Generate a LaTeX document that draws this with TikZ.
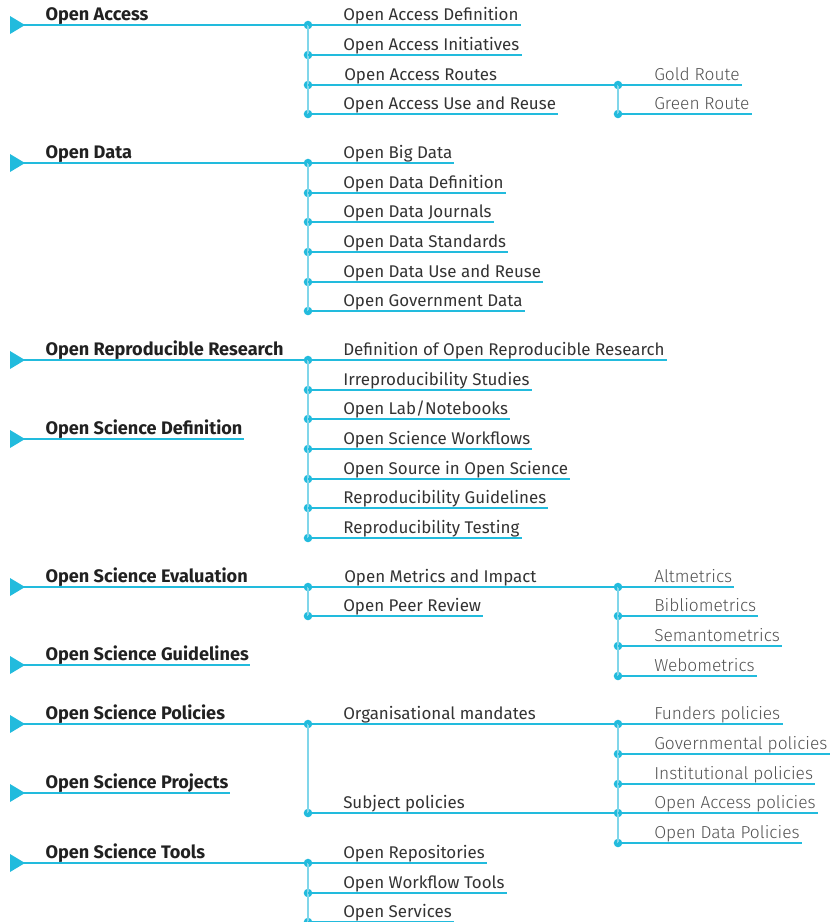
\documentclass[tikz,border=0pt]{standalone}
\usepackage{fontspec}
\setmainfont{Fira Sans}
\newfontfamily\lightfont{Fira Sans Light}
\usepackage{tikz}
\definecolor{oscyan}{HTML}{22BBDD}
\definecolor{oslight}{HTML}{80D6EA}
\tikzset{
  hline/.style={draw=oscyan, line width=0.8pt},
  vline/.style={draw=oslight, line width=1.2pt},
  dot/.style={circle, fill=oscyan, inner sep=0pt, minimum size=6.4pt},
  topic/.style={anchor=south west, inner xsep=1pt, inner ysep=3.2pt, text depth=0pt, font=\bfseries\fontsize{13.6}{15}\selectfont, text=black!87},
  subtopic/.style={anchor=south west, inner xsep=1.5pt, inner ysep=3.2pt, text depth=0pt, font=\fontsize{12.7}{14}\selectfont, text=black!80},
  leaf/.style={anchor=south west, inner xsep=1.5pt, inner ysep=3.2pt, text depth=0pt, font=\lightfont\fontsize{13}{14}\selectfont, text=black!68}
}
\newcommand{\tip}[1]{\fill[oscyan] (#1) ++(-7,-9) -- ++(15,9) -- ++(-15,9) -- cycle;}

\begin{document}
\begin{tikzpicture}[x=0.75pt, y=-0.75pt]
		\useasboundingbox (0,0) rectangle (833,922);
		%%%%% OPEN ACCESS %%%%%
		\coordinate (toa) at (17,25);
		\node[topic] (oa) at (44,25) {Open Access};
		\node[dot] (doaDef) at (308,25) {};
		\node[dot] (doaIni) at (308,55) {};
		\node[dot] (doaRou) at (308,85) {};
		\node[dot] (doaUse) at (308,114) {};
		\node[subtopic] (oaDef) at (341,25) {Open Access Definition};
		\node[subtopic] (oaIni) at (341,55) {Open Access Initiatives};
		\node[subtopic] (oaRou) at (342,85) {Open Access Routes};
		\node[subtopic] (oaUse) at (341,114) {Open Access Use and Reuse};
		\node[dot] (dgold) at (618,85) {};
		\node[dot] (dgreen) at (618,114) {};
		\node[leaf] (gold) at (652,85) {Gold Route};
		\node[leaf] (green) at (652,114) {Green Route};
		\tip{toa}
		\draw[hline] (toa) -- (doaDef.center);
		\draw[vline] (doaDef.center) -- (doaUse.center);
		\draw[hline] (doaDef.center) -- (oaDef.south east);
		\draw[hline] (doaIni.center) -- (oaIni.south east);
		\draw[hline] (doaRou.center) -- (dgold.center);
		\draw[hline] (doaUse.center) -- (oaUse.south east);
		\draw[vline] (dgold.center) -- (dgreen.center);
		\draw[hline] (dgold.center) -- (gold.south east);
		\draw[hline] (dgreen.center) -- (green.south east);
		
		%%%%% OPEN DATA %%%%%
		\coordinate (tod) at (17,163);
		\node[topic] (od) at (44,163) {Open Data};
		\node[dot] (dodBig) at (308,163) {};
		\node[dot] (dodDef) at (308,193) {};
		\node[dot] (dodJou) at (308,222) {};
		\node[dot] (dodSta) at (308,252) {};
		\node[dot] (dodUse) at (308,282) {};
		\node[dot] (dodGov) at (308,311) {};
		\node[subtopic] (odBig) at (341,163) {Open Big Data};
		\node[subtopic] (odDef) at (341,193) {Open Data Definition};
		\node[subtopic] (odJou) at (341,222) {Open Data Journals};
		\node[subtopic] (odSta) at (341,252) {Open Data Standards};
		\node[subtopic] (odUse) at (341,282) {Open Data Use and Reuse};
		\node[subtopic] (odGov) at (341,311) {Open Government Data};
		\tip{tod}
		\draw[hline] (tod) -- (dodBig.center);
		\draw[vline] (dodBig.center) -- (dodGov.center);
		\draw[hline] (dodBig.center) -- (odBig.south east);
		\draw[hline] (dodDef.center) -- (odDef.south east);
		\draw[hline] (dodJou.center) -- (odJou.south east);
		\draw[hline] (dodSta.center) -- (odSta.south east);
		\draw[hline] (dodUse.center) -- (odUse.south east);
		\draw[hline] (dodGov.center) -- (odGov.south east);
		
		%%%%% OPEN REPRODUCIBLE RESEARCH %%%%%
		\coordinate (torr) at (17,360);
		\node[topic] (orr) at (44,360) {Open Reproducible Research};
		\node[dot] (dorrDef) at (308,360) {};
		\node[dot] (dorrIrr) at (308,390) {};
		\node[dot] (dorrLab) at (308,419) {};
		\node[dot] (dorrWor) at (308,449) {};
		\node[dot] (dorrSrc) at (308,479) {};
		\node[dot] (dorrGui) at (308,508) {};
		\node[dot] (dorrTes) at (308,538) {};
		\node[subtopic] (orrDef) at (341,360) {Definition of Open Reproducible Research};
		\node[subtopic] (orrIrr) at (341,390) {Irreproducibility Studies};
		\node[subtopic] (orrLab) at (341,419) {Open Lab/Notebooks};
		\node[subtopic] (orrWor) at (341,449) {Open Science Workflows};
		\node[subtopic] (orrSrc) at (341,479) {Open Source in Open Science};
		\node[subtopic] (orrGui) at (341,508) {Reproducibility Guidelines};
		\node[subtopic] (orrTes) at (341,538) {Reproducibility Testing};
		\tip{torr}
		\draw[hline] (torr) -- (dorrDef.center);
		\draw[vline] (dorrDef.center) -- (dorrTes.center);
		\draw[hline] (dorrDef.center) -- (orrDef.south east);
		\draw[hline] (dorrIrr.center) -- (orrIrr.south east);
		\draw[hline] (dorrLab.center) -- (orrLab.south east);
		\draw[hline] (dorrWor.center) -- (orrWor.south east);
		\draw[hline] (dorrSrc.center) -- (orrSrc.south east);
		\draw[hline] (dorrGui.center) -- (orrGui.south east);
		\draw[hline] (dorrTes.center) -- (orrTes.south east);
		
		%%%%% OPEN SCIENCE DEFINITION %%%%%
		\coordinate (tosd) at (17,439);
		\node[topic] (osd) at (44,439) {Open Science Definition};
		\tip{tosd}
		\draw[hline] (tosd) -- (osd.south east);
		
		%%%%% OPEN SCIENCE EVALUATION %%%%%
		\coordinate (tose) at (17,587);
		\node[topic] (ose) at (44,587) {Open Science Evaluation};
		\node[dot] (doseMet) at (308,587) {};
		\node[dot] (dosePee) at (308,616) {};
		\node[subtopic] (oseMet) at (342,587) {Open Metrics and Impact};
		\node[subtopic] (osePee) at (341,616) {Open Peer Review};
		\node[dot] (dalt) at (618,587) {};
		\node[dot] (dbib) at (618,616) {};
		\node[dot] (dsem) at (618,646) {};
		\node[dot] (dweb) at (618,676) {};
		\node[leaf] (alt) at (652,587) {Altmetrics};
		\node[leaf] (bib) at (652,616) {Bibliometrics};
		\node[leaf] (sem) at (652,646) {Semantometrics};
		\node[leaf] (web) at (652,676) {Webometrics};
		\tip{tose}
		\draw[hline] (tose) -- (doseMet.center);
		\draw[vline] (doseMet.center) -- (dosePee.center);
		\draw[hline] (doseMet.center) -- (dalt.center);
		\draw[hline] (dosePee.center) -- (osePee.south east);
		\draw[vline] (dalt.center) -- (dweb.center);
		\draw[hline] (dalt.center) -- (alt.south east);
		\draw[hline] (dbib.center) -- (bib.south east);
		\draw[hline] (dsem.center) -- (sem.south east);
		\draw[hline] (dweb.center) -- (web.south east);
		
		%%%%% OPEN SCIENCE GUIDELINES %%%%%
		\coordinate (tosg) at (17,665);
		\node[topic] (osg) at (44,665) {Open Science Guidelines};
		\tip{tosg}
		\draw[hline] (tosg) -- (osg.south east);
		
		%%%%% OPEN SCIENCE POLICIES %%%%%
		\coordinate (tosp) at (17,724);
		\node[topic] (osp) at (44,724) {Open Science Policies};
		\node[dot] (dospOrg) at (308,724) {};
		\node[dot] (dospSub) at (308,813) {};
		\node[subtopic] (ospOrg) at (341,724) {Organisational mandates};
		\node[subtopic] (ospSub) at (341,813) {Subject policies};
		\node[dot] (dfun) at (618,724) {};
		\node[dot] (dgov) at (618,754) {};
		\node[dot] (dins) at (618,784) {};
		\node[dot] (doap) at (618,813) {};
		\node[dot] (dodp) at (618,843) {};
		\node[leaf] (fun) at (652,724) {Funders policies};
		\node[leaf] (gov) at (652,754) {Governmental policies};
		\node[leaf] (ins) at (652,784) {Institutional policies};
		\node[leaf] (oap) at (652,813) {Open Access policies};
		\node[leaf] (odp) at (652,843) {Open Data Policies};
		\tip{tosp}
		\draw[hline] (tosp) -- (dospOrg.center);
		\draw[vline] (dospOrg.center) -- (dospSub.center);
		\draw[hline] (dospOrg.center) -- (dfun.center);
		\draw[hline] (dospSub.center) -- (doap.center);
		\draw[vline] (dfun.center) -- (dodp.center);
		\draw[hline] (dfun.center) -- (fun.south east);
		\draw[hline] (dgov.center) -- (gov.south east);
		\draw[hline] (dins.center) -- (ins.south east);
		\draw[hline] (doap.center) -- (oap.south east);
		\draw[hline] (dodp.center) -- (odp.south east);
		
		%%%%% OPEN SCIENCE PROJECTS %%%%%
		\coordinate (tospr) at (17,793);
		\node[topic] (ospr) at (44,793) {Open Science Projects};
		\tip{tospr}
		\draw[hline] (tospr) -- (ospr.south east);
		
		%%%%% OPEN SCIENCE TOOLS %%%%%
		\coordinate (tost) at (17,863);
		\node[topic] (ost) at (44,863) {Open Science Tools};
		\node[dot] (dostRep) at (308,863) {};
		\node[dot] (dostWor) at (308,893) {};
		\node[dot] (dostSer) at (308,922) {};
		\node[subtopic] (ostRep) at (341,863) {Open Repositories};
		\node[subtopic] (ostWor) at (341,893) {Open Workflow Tools};
		\node[subtopic] (ostSer) at (341,922) {Open Services};
		\tip{tost}
		\draw[hline] (tost) -- (dostRep.center);
		\draw[vline] (dostRep.center) -- (dostSer.center);
		\draw[hline] (dostRep.center) -- (ostRep.south east);
		\draw[hline] (dostWor.center) -- (ostWor.south east);
		\draw[hline] (dostSer.center) -- (ostSer.south east);
		%%%%% END %%%%%
\end{tikzpicture}
\end{document}
